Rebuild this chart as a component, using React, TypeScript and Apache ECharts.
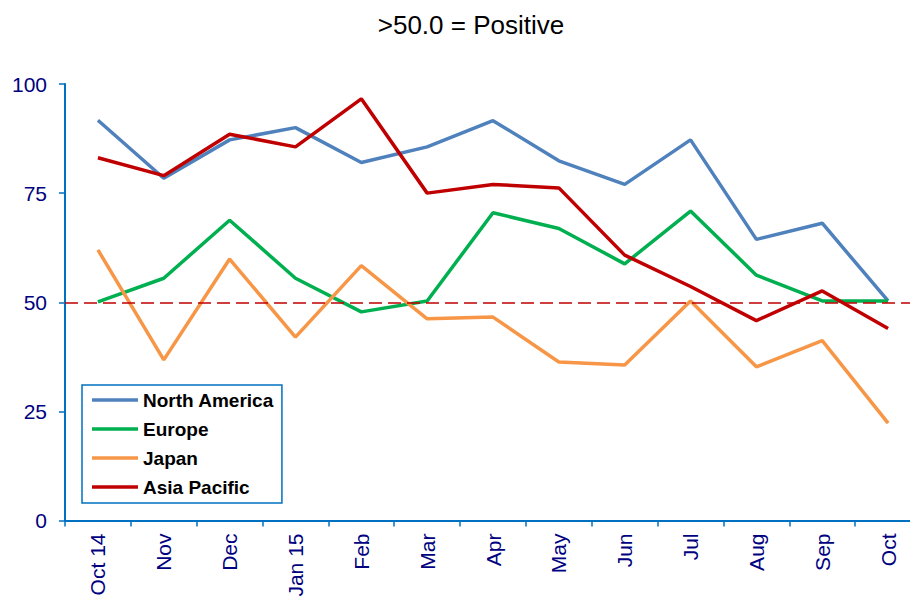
import React, { useEffect, useRef } from "react";
import * as echarts from "echarts";

const categories = ["Oct 14", "Nov", "Dec", "Jan 15", "Feb", "Mar", "Apr", "May", "Jun", "Jul", "Aug", "Sep", "Oct"];
const northAmerica = [91.7, 78.4, 87.2, 90.0, 82.0, 85.6, 91.6, 82.4, 77.0, 87.2, 64.4, 68.1, 50.3];
const europe = [50.1, 55.5, 68.8, 55.5, 47.8, 50.3, 70.5, 66.9, 58.8, 70.9, 56.2, 50.3, 50.3];
const japan = [62.0, 36.8, 59.9, 42.0, 58.4, 46.2, 46.6, 36.3, 35.6, 50.3, 35.2, 41.2, 22.3];
const asiaPacific = [83.1, 79.0, 88.5, 85.6, 96.6, 75.0, 77.0, 76.2, 60.8, 53.6, 45.8, 52.6, 44.0];
const yTicks = { min: 0, max: 100, interval: 25 };
const threshold = 50;
const titleText = ">50.0 = Positive";

export default function App() {
  const ref = useRef<HTMLDivElement>(null);
  useEffect(() => {
    if (!ref.current) return;
    const chart = echarts.init(ref.current, undefined, { renderer: "svg" });
    const font = "Liberation Sans, Arial, sans-serif";
    const mk = (name: string, data: number[], color: string, extra: any = {}) => ({
      name,
      type: "line",
      data,
      symbol: "none",
      lineStyle: { color, width: 3.5 },
      itemStyle: { color },
      z: 3,
      ...extra,
    });
    chart.setOption({
      animation: false,
      title: {
        text: titleText,
        left: 466,
        textAlign: "center",
        top: 7,
        textStyle: { fontFamily: font, fontSize: 26, fontWeight: "normal", color: "#000" },
      },
      legend: {
        orient: "vertical",
        left: 82,
        top: 385,
        icon: "rect",
        itemWidth: 46,
        itemHeight: 3.5,
        itemGap: 9,
        padding: [5, 8, 6, 10],
        borderColor: "#0070C0",
        borderWidth: 1.5,
        backgroundColor: "#fff",
        textStyle: { fontFamily: font, fontSize: 19, fontWeight: "bold", color: "#000", lineHeight: 20 },
        data: ["North America", "Europe", "Japan", "Asia Pacific"],
      },
      grid: { left: 65, top: 84, right: -11, bottom: 75.5, containLabel: false, outerBoundsMode: "none" },
      xAxis: {
        type: "category",
        data: categories,
        boundaryGap: true,
        axisLine: { lineStyle: { color: "#0070C0", width: 2 } },
        axisTick: { show: true, length: 6, lineStyle: { color: "#0070C0", width: 1.5 } },
        axisLabel: { rotate: 90, margin: 13, fontFamily: font, fontSize: 21, color: "#000080", interval: 0 },
      },
      yAxis: {
        type: "value",
        min: yTicks.min,
        max: yTicks.max,
        interval: yTicks.interval,
        axisLine: { show: true, lineStyle: { color: "#0070C0", width: 2 } },
        axisTick: { show: true, length: 6, lineStyle: { color: "#0070C0", width: 1.5 } },
        splitLine: { show: false },
        axisLabel: { margin: 18, fontFamily: font, fontSize: 21, color: "#000080" },
      },
      series: [
        mk("North America", northAmerica, "#4F81BD"),
        mk("Europe", europe, "#00B050"),
        mk("Japan", japan, "#F79646"),
        mk("Asia Pacific", asiaPacific, "#C00000", {
          markLine: {
            silent: true,
            symbol: "none",
            label: { show: false },
            lineStyle: { color: "#C00000", type: [13, 6], width: 1.5 },
            data: [{ yAxis: threshold }],
          },
        }),
      ],
    });
    return () => chart.dispose();
  }, []);
  return <div ref={ref} style={{ position: "absolute", left: 0, top: 0, width: 910, height: 596 }} />;
}
